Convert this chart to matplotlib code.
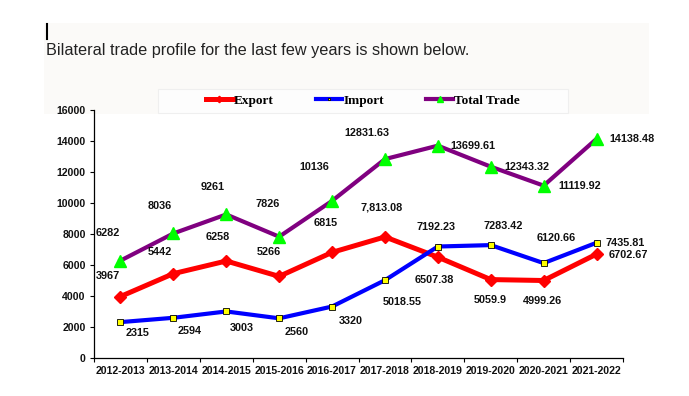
import numpy as np
import matplotlib.pyplot as plt
from matplotlib.patches import Rectangle
from matplotlib.lines import Line2D

years = ['2012-2013', '2013-2014', '2014-2015', '2015-2016', '2016-2017',
         '2017-2018', '2018-2019', '2019-2020', '2020-2021', '2021-2022']
export = [3967, 5442, 6258, 5266, 6815, 7813.08, 6507.38, 5059.9, 4999.26, 6702.67]
imports = [2315, 2594, 3003, 2560, 3320, 5018.55, 7192.23, 7283.42, 6120.66, 7435.81]
total = [6282, 8036, 9261, 7826, 10136, 12831.63, 13699.61, 12343.32, 11119.92, 14138.48]

export_txt = ['3967', '5442', '6258', '5266', '6815', '7,813.08', '6507.38', '5059.9', '4999.26', '6702.67']
import_txt = ['2315', '2594', '3003', '2560', '3320', '5018.55', '7192.23', '7283.42', '6120.66', '7435.81']
total_txt = ['6282', '8036', '9261', '7826', '10136', '12831.63', '13699.61', '12343.32', '11119.92', '14138.48']

# label offsets in screen pixels (dx right, dy down)
total_off = [(-13, -28), (-14, -27), (-14, -27), (-11, -33), (-18, -34),
             (-18, -26), (35, 0), (36, 0), (36, 0), (35, 0)]
export_off = [(-13, -21), (-14, -22), (-8, -24), (-10, -24), (-6, -29),
              (-3, -29), (-4, 23), (-1, 20), (-1, 20), (32, 1)]
import_off = [(17, 11), (16, 13), (16, 17), (18, 14), (19, 14),
              (17, 22), (-2, -20), (12, -19), (13, -25), (29, 0)]

W, H = 689, 396
fig = plt.figure(figsize=(W / 100, H / 100), dpi=100)
fig.patch.set_facecolor('white')

# top panel with the sentence
fig.patches.append(Rectangle((44 / W, 1 - 114 / H), (649 - 44) / W, (114 - 23) / H,
                             transform=fig.transFigure, facecolor='#fbfaf8', edgecolor='none', zorder=-2))
fig.lines.append(Line2D([47 / W, 47 / W], [1 - 24 / H, 1 - 39 / H], transform=fig.transFigure,
                        color='black', lw=1.5))
fig.text(46 / W, 1 - 50 / H, 'Bilateral trade profile for the last few years is shown below.',
         family='Liberation Sans', fontsize=11.7, color='#222222', va='center', ha='left')

# legend frame
fig.patches.append(Rectangle((158 / W, 1 - 113 / H), (568 - 158) / W, (113 - 89) / H,
                             transform=fig.transFigure, facecolor='#fdfdfd', edgecolor='#efefef',
                             lw=0.8, zorder=-1))

ax = fig.add_axes([94 / W, 38 / H, 529 / W, 248 / H])
x = np.arange(len(years)) + 0.5

l_tot, = ax.plot(x, total, color='#800080', lw=3, marker='^', ms=8.5,
                 mfc='#00ff00', mec='#00ff00', zorder=3)
l_exp, = ax.plot(x, export, color='#ff0000', lw=3.6, marker='D', ms=6.5,
                 mfc='#ff0000', mec='#ff0000', zorder=4)
l_imp, = ax.plot(x, imports, color='#0000ff', lw=3, marker='s', ms=3.8,
                 mfc='#ffff00', mec='black', mew=0.6, zorder=5)

lab_kw = dict(textcoords='offset pixels', ha='center', va='center',
              family='Liberation Sans', fontweight='bold', fontsize=7.8, color='#111111')
for xs, vals, txts, offs in [(x, total, total_txt, total_off),
                             (x, export, export_txt, export_off),
                             (x, imports, import_txt, import_off)]:
    for xi, v, t, (dx, dy) in zip(xs, vals, txts, offs):
        ax.annotate(t, (xi, v), xytext=(dx, -dy), zorder=6, **lab_kw)

ax.set_xlim(0, len(years))
ax.set_ylim(0, 16000)
ax.set_yticks(np.arange(0, 16001, 2000))
ax.set_xticks(np.arange(0, len(years) + 1))
ax.set_xticklabels([])
ax.set_xticks(x, minor=True)
ax.set_xticklabels(years, minor=True)
ax.tick_params(axis='x', which='minor', length=0, pad=6)
ax.tick_params(axis='x', which='major', length=3, width=0.8, direction='out')
ax.tick_params(axis='y', length=3, width=0.8, direction='out', pad=3)
for lab in ax.get_yticklabels() + ax.get_xticklabels(minor=True):
    lab.set_family('Liberation Sans')
    lab.set_fontweight('bold')
    lab.set_fontsize(7.6)
    lab.set_color('#111111')

for s in ['top', 'right']:
    ax.spines[s].set_visible(False)
for s in ['left', 'bottom']:
    ax.spines[s].set_linewidth(0.9)
ax.patch.set_alpha(0)

leg = fig.legend([l_exp, l_imp, l_tot], ['Export', 'Import', 'Total Trade'],
                 loc='center', bbox_to_anchor=(363 / W, 1 - 101 / H), ncol=3,
                 frameon=False, handlelength=2.0, handletextpad=0.1, columnspacing=3.2,
                 prop={'family': 'Liberation Serif', 'weight': 'bold', 'size': 9.5},
                 markerscale=0.5)

fig.savefig('out.png', dpi=100)
